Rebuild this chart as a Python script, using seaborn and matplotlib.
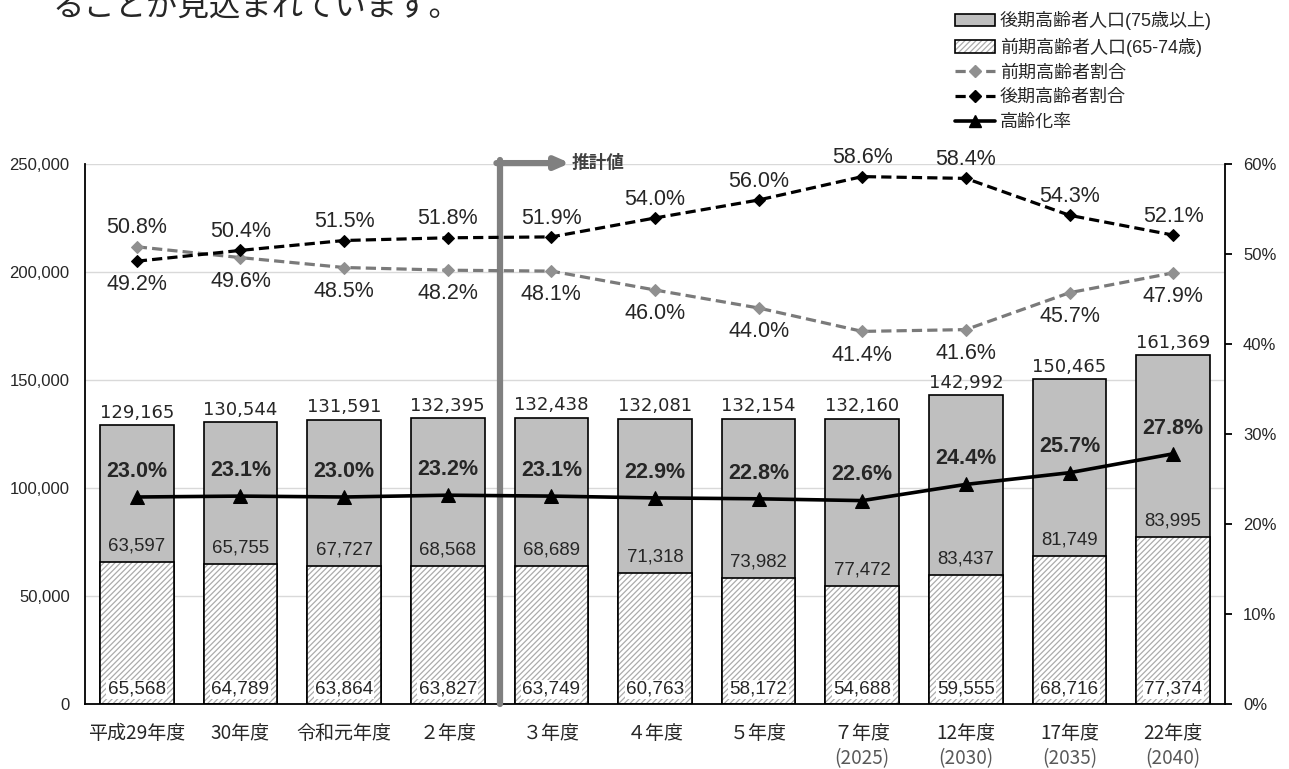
import numpy as np
import pandas as pd
import seaborn as sns
import matplotlib.pyplot as plt
from matplotlib.patches import Patch
from matplotlib.lines import Line2D
from matplotlib.legend_handler import HandlerTuple
from matplotlib.ticker import FuncFormatter, MultipleLocator

# data
years = ['平成29年度', '30年度', '令和元年度', '２年度', '３年度', '４年度',
         '５年度', '７年度', '12年度', '17年度', '22年度']
years_sub = ['', '', '', '', '', '', '', '(2025)', '(2030)', '(2035)', '(2040)']
late_pop = [63597, 65755, 67727, 68568, 68689, 71318, 73982, 77472, 83437, 81749, 83995]
early_pop = [65568, 64789, 63864, 63827, 63749, 60763, 58172, 54688, 59555, 68716, 77374]
total_pop = [129165, 130544, 131591, 132395, 132438, 132081, 132154, 132160, 142992, 150465, 161369]
early_ratio = [50.8, 49.6, 48.5, 48.2, 48.1, 46.0, 44.0, 41.4, 41.6, 45.7, 47.9]
late_ratio = [49.2, 50.4, 51.5, 51.8, 51.9, 54.0, 56.0, 58.6, 58.4, 54.3, 52.1]
aging_rate = [23.0, 23.1, 23.0, 23.2, 23.1, 22.9, 22.8, 22.6, 24.4, 25.7, 27.8]

sns.set_style('white')
plt.rcParams['font.family'] = ['Liberation Sans', 'Noto Sans CJK JP']
plt.rcParams['hatch.linewidth'] = 0.9

df = pd.DataFrame({'year': years, 'total': total_pop, 'early': early_pop,
                   'late': late_pop})
xpos = np.arange(len(years))

fig = plt.figure(figsize=(12.89, 7.69), dpi=100)
ax = fig.add_axes([85 / 1289, 65 / 769, 1140 / 1289, 540 / 769])

# stacked bars: total (grey) then early part (hatched) on top of it
sns.barplot(data=df, x='year', y='total', color='#bfbfbf', saturation=1,
            edgecolor='black', linewidth=1.2, width=0.71, ax=ax)
sns.barplot(data=df, x='year', y='early', color='white', saturation=1,
            edgecolor='#ababab', linewidth=0, hatch='//////', width=0.71, ax=ax)
sns.barplot(data=df, x='year', y='early', color='black', fill=False,
            linewidth=1.2, width=0.71, ax=ax)

ax.set_ylim(0, 250000)
ax.set_xlim(-0.5, len(years) - 0.5)
ax.yaxis.set_major_locator(MultipleLocator(50000))
ax.yaxis.set_major_formatter(FuncFormatter(lambda v, p: f'{int(v):,}'))
ax.grid(axis='y', color='#d9d9d9', linewidth=1)
ax.set_axisbelow(True)
ax.set_xlabel('')
ax.set_ylabel('')
for s in ['top', 'right']:
    ax.spines[s].set_visible(False)
for s in ['left', 'bottom']:
    ax.spines[s].set_color('black')
    ax.spines[s].set_linewidth(1.3)
ax.tick_params(axis='y', length=0, pad=11, labelsize=12)
ax.tick_params(axis='x', length=0, pad=14)

# bar labels
for i in range(len(years)):
    ax.annotate(f'{total_pop[i]:,}', (i, total_pop[i]), xytext=(0, 2.5),
                textcoords='offset points', ha='center', va='bottom',
                fontsize=13, family='DejaVu Sans')
    ax.annotate(f'{late_pop[i]:,}', (i, early_pop[i]), xytext=(0, 11.5),
                textcoords='offset points', ha='center', va='center',
                fontsize=13.4)
    ax.annotate(f'{early_pop[i]:,}', (i, 0), xytext=(0, 10.5),
                textcoords='offset points', ha='center', va='center',
                fontsize=13.6, zorder=5,
                bbox=dict(facecolor='white', edgecolor='none', pad=1))

# ratio lines on the right axis
ax2 = ax.twinx()
sns.lineplot(x=xpos, y=early_ratio, ax=ax2, color='#7a7a7a', linestyle='--',
             linewidth=2.3, marker='D', markersize=6.5, markerfacecolor='#909090',
             markeredgecolor='#909090')
ax2.lines[-1].set_dashes((3.2, 1.6))
sns.lineplot(x=xpos, y=late_ratio, ax=ax2, color='black', linestyle='--',
             linewidth=2.3, marker='D', markersize=6.5, markerfacecolor='black',
             markeredgecolor='black')
ax2.lines[-1].set_dashes((3.2, 1.6))
sns.lineplot(x=xpos, y=aging_rate, ax=ax2, color='black', linewidth=2.6,
             marker='^', markersize=10, markerfacecolor='black',
             markeredgecolor='black')

ax2.set_ylim(0, 60)
ax2.set_xlim(-0.5, len(years) - 0.5)
ax2.yaxis.set_major_locator(MultipleLocator(10))
ax2.yaxis.set_major_formatter(FuncFormatter(lambda v, p: f'{int(v)}%'))
ax2.set_ylabel('')
ax2.grid(False)
for s in ['top', 'left', 'bottom']:
    ax2.spines[s].set_visible(False)
ax2.spines['right'].set_color('black')
ax2.spines['right'].set_linewidth(1.3)
ax2.tick_params(axis='y', direction='out', length=5, width=1.3, color='black',
                pad=8, labelsize=12, right=True)

for i in range(len(years)):
    hi, lo = max(early_ratio[i], late_ratio[i]), min(early_ratio[i], late_ratio[i])
    ax2.annotate(f'{hi:.1f}%', (i, hi), xytext=(0, 6), textcoords='offset points',
                 ha='center', va='bottom', fontsize=15.5)
    ax2.annotate(f'{lo:.1f}%', (i, lo), xytext=(0, -9.5), textcoords='offset points',
                 ha='center', va='top', fontsize=15.5)
    ax2.annotate(f'{aging_rate[i]:.1f}%', (i, aging_rate[i]), xytext=(0, 11),
                 textcoords='offset points', ha='center', va='bottom',
                 fontsize=15.5, fontweight='bold')

# x tick labels (first line black, year in grey below)
ax.set_xticks(xpos)
ax.set_xticklabels(years, fontsize=13.7, family='Noto Sans CJK JP')
for i, sub in enumerate(years_sub):
    if sub:
        ax.annotate(sub, (i, 0), xytext=(0, -39.5), textcoords='offset points',
                    ha='center', va='center', fontsize=13.7, color='#595959',
                    family='Noto Sans CJK JP', annotation_clip=False)

# projection marker
ax2.axvline(3.5, ymin=0, ymax=1.008, color='#808080', linewidth=4.5,
            clip_on=False, zorder=1)
ax2.annotate('', xy=(4.18, 60.1), xytext=(3.47, 60.1),
             arrowprops=dict(arrowstyle='-|>,head_length=0.8,head_width=0.35',
                             color='#808080', linewidth=4.5, shrinkA=0, shrinkB=0),
             annotation_clip=False)
ax2.annotate('推計値', (4.2, 60.1), ha='left', va='center', fontsize=12.7,
             fontweight='bold', color='#404040', family='Noto Sans CJK JP',
             annotation_clip=False)

# legend
handles = [
    Patch(facecolor='#bfbfbf', edgecolor='black', linewidth=1.2),
    (Patch(facecolor='white', edgecolor='#ababab', hatch='//////', linewidth=0),
     Patch(fill=False, edgecolor='black', linewidth=1.2)),
    Line2D([], [], color='#7a7a7a', linestyle=(0, (3.2, 1.6)), linewidth=2.3,
           marker='D', markersize=6, markerfacecolor='#909090',
           markeredgecolor='#909090'),
    Line2D([], [], color='black', linestyle=(0, (3.2, 1.6)), linewidth=2.3,
           marker='D', markersize=6, markerfacecolor='black'),
    Line2D([], [], color='black', linewidth=2.6, marker='^', markersize=9,
           markerfacecolor='black'),
]
labels = ['後期高齢者人口(75歳以上)', '前期高齢者人口(65-74歳)', '前期高齢者割合',
          '後期高齢者割合', '高齢化率']
fig.legend(handles, labels, loc='upper left', bbox_to_anchor=(941 / 1289, 1.004),
           frameon=False, handlelength=2.2, handletextpad=0.25,
           labelspacing=0.42, borderpad=0.3,
           handler_map={tuple: HandlerTuple(ndivide=1, pad=0)},
           prop={'family': ['Liberation Sans', 'Noto Sans CJK JP'], 'size': 13})

fig.text(52 / 1289, 1 - 7 / 769, 'ることが見込まれています。', fontsize=22.6,
         va='center', ha='left', family='Noto Sans CJK JP')

fig.savefig('out.png', dpi=100)
